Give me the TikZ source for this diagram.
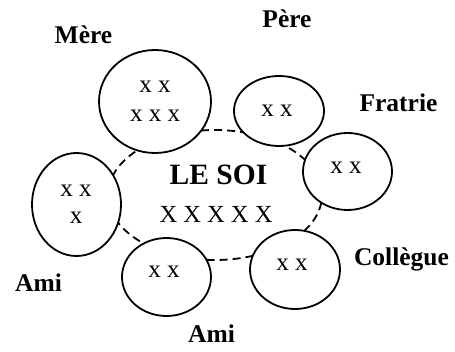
\documentclass[tikz,border=0pt]{standalone}
\usepackage{fontspec}
\setmainfont{Liberation Serif}
\usetikzlibrary{shapes.geometric}
\begin{document}
\begin{tikzpicture}[x=1pt,y=-1pt,
  blob/.style={draw,ellipse,line width=1.8pt,fill=white,inner sep=0pt},
  lbl/.style={anchor=base,inner sep=0pt,font=\fontsize{25.5}{28}\selectfont\bfseries},
  xs/.style={anchor=base,inner sep=0pt,font=\fontsize{25}{28}\selectfont},
  soi/.style={anchor=base,inner sep=0pt,font=\fontsize{29.5}{32}\selectfont\bfseries},
  selfline/.style={line width=1.8pt,dash pattern=on 8pt off 5pt}]
\useasboundingbox (0,0) rectangle (455,352);
% dashed self ellipse
\coordinate (selfc) at (215,195);
\draw[selfline] (selfc) ellipse [x radius=107pt, y radius=65pt];
% circles
\node[blob,minimum width=112pt,minimum height=103pt] (mere) at (155,101.5) {};
\node[blob,minimum width=90pt,minimum height=70pt] (pere) at (279,111) {};
\node[blob,minimum width=89pt,minimum height=77pt] (fratrie) at (347.5,171.5) {};
\node[blob,minimum width=90pt,minimum height=79pt] (coll) at (295,269.5) {};
\node[blob,minimum width=89pt,minimum height=78pt] (amib) at (166.5,277) {};
\node[blob,minimum width=89pt,minimum height=103pt] (amil) at (76.5,204.5) {};
% contents
\node[xs] (mx1) at (155,93) {x x};
\node[xs] (mx2) at (155,122) {x x x};
\node[xs] (px) at (277,117) {x x};
\node[xs] (fx) at (346,174) {x x};
\node[xs] (cx) at (292,271) {x x};
\node[xs] (abx) at (164,278) {x x};
\node[xs] (alx1) at (76,197) {x x};
\node[xs] (alx2) at (76,224) {x};
% centre
\node[soi] (lesoi) at (218.5,185) {LE SOI};
\node[xs,font=\fontsize{24.5}{28}\selectfont] (bigx) at (216,223) {X X X X X};
% labels
\node[lbl] (lmere) at (83.5,44) {Mère};
\node[lbl] (lpere) at (287,28) {Père};
\node[lbl] (lfrat) at (398.5,112) {Fratrie};
\node[lbl] (lcoll) at (401.5,266) {Collègue};
\node[lbl] (lamil) at (38.5,292) {Ami};
\node[lbl] (lamib) at (211.5,343) {Ami};
\end{tikzpicture}
\end{document}
